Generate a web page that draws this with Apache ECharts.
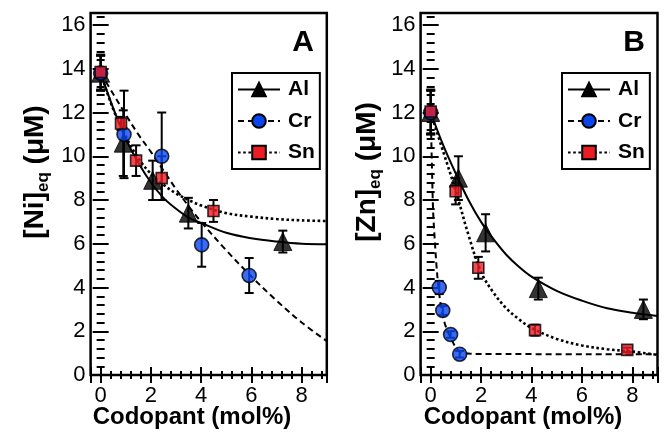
<!DOCTYPE html>
<html>
<head>
<meta charset="utf-8">
<script src="https://cdn.jsdelivr.net/npm/echarts@6/dist/echarts.min.js"></script>
<style>
  html, body { margin: 0; padding: 0; background: #fff; }
  #chart { width: 664px; height: 442px; }
</style>
</head>
<body>
<div id="chart"></div>
<script>
// ---- data ----
// panel A: [Ni]eq
const niAlX = [0, 0.9, 2.07, 3.49, 7.25];
const niAlY = [13.8, 10.6, 8.9, 7.4, 6.1];
const niAlErr = [0.8, 1.5, 0.9, 0.7, 0.5];
const niCrX = [0, 0.93, 2.43, 4.02, 5.91];
const niCrY = [13.8, 11.0, 10.0, 5.95, 4.55];
const niCrErr = [0.8, 2.0, 2.0, 1.0, 0.8];
const niSnX = [0, 0.81, 1.41, 2.43, 4.49];
const niSnY = [13.85, 11.5, 9.8, 9.0, 7.5];
const niSnErr = [0.8, 0.3, 0.7, 1.0, 0.5];
// fitted curves, panel A
const fitX = [0, 0.5, 1, 1.5, 2, 2.5, 3, 3.5, 4, 5, 6, 7, 8, 9];
const niAlFit = [13.8, 12.2, 10.8, 9.7, 8.8, 8.1, 7.6, 7.2, 6.95, 6.5, 6.25, 6.1, 6.0, 5.98];
const niCrFit = [13.8, 12.85, 11.9, 11.0, 10.2, 9.35, 8.5, 7.72, 7.0, 5.7, 4.5, 3.4, 2.4, 1.55];
const niSnFit = [13.8, 12.15, 10.9, 9.9, 9.2, 8.7, 8.3, 8.0, 7.75, 7.4, 7.24, 7.13, 7.07, 7.04];

// panel B: [Zn]eq
const znAlX = [0, 1.1, 2.18, 4.27, 8.44];
const znAlY = [12, 9.0, 6.5, 3.95, 3.0];
const znAlErr = [1.0, 1.0, 0.85, 0.5, 0.45];
const znCrX = [0, 0.34, 0.48, 0.79, 1.15];
const znCrY = [12, 4.0, 2.95, 1.85, 0.95];
const znCrErr = [1.0, 0.3, 0.2, 0.15, 0.15];
const znSnX = [0, 0.99, 1.89, 4.14, 7.8];
const znSnY = [12.05, 8.4, 4.9, 2.05, 1.15];
const znSnErr = [1.0, 0.6, 0.5, 0.25, 0.1];
// fitted curves, panel B
const znAlFit = [12, 10.5, 9.2, 8.0, 7.0, 6.2, 5.5, 4.95, 4.5, 3.85, 3.4, 3.05, 2.85, 2.7];
const znSnFit = [12, 10.2, 8.4, 6.4, 4.7, 3.75, 3.05, 2.55, 2.15, 1.65, 1.35, 1.18, 1.07, 0.92];
const znCrFitX = [0, 0.05, 0.1, 0.16, 0.23, 0.3, 0.4, 0.5, 0.65, 0.8, 1.0, 1.2, 1.5, 2, 9];
const znCrFit = [12, 9.5, 7.4, 6.2, 5.0, 4.1, 3.2, 2.6, 2.05, 1.7, 1.25, 1.05, 0.98, 0.96, 0.95];

const seriesNames = ['Al', 'Cr', 'Sn'];
const xMin = -0.4, xMax = 9;
const yMin = 0, yMax = 16.55;

const FONT = 'Liberation Sans';
const BLUE = '#0a46f0';
const RED = '#ec1c24';

const chart = echarts.init(document.getElementById('chart'));

const tickLine = { color: '#000', width: 2 };

function xAxes(grid) {
  const base = {
    gridIndex: grid, type: 'value', min: xMin, max: xMax,
    axisLine: { show: false }, splitLine: { show: false }
  };
  const major = { minInterval: 2, maxInterval: 2, axisTick: { inside: true, length: 8, lineStyle: tickLine } };
  const minor = { interval: 0.4, axisTick: { inside: true, length: 4, lineStyle: tickLine }, axisLabel: { show: false } };
  return [
    Object.assign({}, base, major, {
      position: 'bottom',
      axisLabel: {
        fontFamily: FONT, fontSize: 22, color: '#000', margin: 10,
        formatter: v => (Math.abs(v % 2) < 1e-9 && v >= 0 ? String(v) : '')
      }
    }),
    Object.assign({}, base, minor, { position: 'bottom' }),
    Object.assign({}, base, major, { position: 'top', axisLabel: { show: false } }),
    Object.assign({}, base, minor, { position: 'top' })
  ];
}

function yAxes(grid) {
  const base = {
    gridIndex: grid, type: 'value', min: yMin, max: yMax,
    axisLine: { show: false }, splitLine: { show: false }
  };
  const major = { interval: 2, axisTick: { inside: true, length: 8, lineStyle: tickLine } };
  const minor = { interval: 0.4, axisTick: { inside: true, length: 4, lineStyle: tickLine }, axisLabel: { show: false } };
  return [
    Object.assign({}, base, major, {
      position: 'left',
      axisLabel: {
        fontFamily: FONT, fontSize: 22, color: '#000', margin: 5,
        formatter: v => (Math.abs(v % 2) < 1e-9 ? String(v) : '')
      }
    }),
    Object.assign({}, base, minor, { position: 'left' }),
    Object.assign({}, base, major, { position: 'right', axisLabel: { show: false } }),
    Object.assign({}, base, minor, { position: 'right' })
  ];
}

const lineStyles = {
  Al: { color: '#000', width: 2, type: 'solid' },
  Cr: { color: '#000', width: 2, type: [6, 4] },
  Sn: { color: '#000', width: 2.6, type: [2.6, 2.6] }
};
const markers = {
  Al: { symbol: 'triangle', size: 18, item: { color: '#000', borderColor: '#000', borderWidth: 1 } },
  Cr: { symbol: 'circle', size: 14, item: { color: BLUE, borderColor: '#000', borderWidth: 1.6 } },
  Sn: { symbol: 'rect', size: 11, item: { color: RED, borderColor: '#000', borderWidth: 1.6 } }
};

function fitSeries(name, axis, xs, ys) {
  return {
    name: name, type: 'line', xAxisIndex: axis, yAxisIndex: axis,
    data: xs.map((x, i) => [x, ys[i]]),
    smooth: 0.35,
    symbol: markers[name].symbol, showSymbol: false,
    itemStyle: markers[name].item,
    lineStyle: lineStyles[name],
    z: 2, silent: true
  };
}

function errSeries(axis, xs, ys, errs) {
  return {
    type: 'custom', xAxisIndex: axis, yAxisIndex: axis, z: 3, silent: true,
    data: xs.map((x, i) => [x, ys[i] - errs[i], ys[i] + errs[i]]),
    encode: { x: 0, y: [1, 2] },
    renderItem: function (params, api) {
      const lo = api.coord([api.value(0), api.value(1)]);
      const hi = api.coord([api.value(0), api.value(2)]);
      const w = 4.5;
      const st = { stroke: '#000', lineWidth: 2 };
      return {
        type: 'group',
        children: [
          { type: 'line', shape: { x1: lo[0], y1: lo[1], x2: hi[0], y2: hi[1] }, style: st },
          { type: 'line', shape: { x1: lo[0] - w, y1: lo[1], x2: lo[0] + w, y2: lo[1] }, style: st },
          { type: 'line', shape: { x1: hi[0] - w, y1: hi[1], x2: hi[0] + w, y2: hi[1] }, style: st }
        ]
      };
    }
  };
}

function pointSeries(name, axis, xs, ys) {
  return {
    name: name + ' data', type: 'scatter', xAxisIndex: axis, yAxisIndex: axis,
    data: xs.map((x, i) => [x, ys[i]]),
    symbol: markers[name].symbol, symbolSize: markers[name].size,
    itemStyle: markers[name].item, z: 4, silent: true
  };
}

function legendAt(left) {
  return {
    data: seriesNames, orient: 'vertical', left: left, top: 73,
    padding: [6, 5, 6, 5], itemGap: 10.5, itemWidth: 42, itemHeight: 17,
    borderColor: '#000', borderWidth: 2, borderRadius: 0,
    textStyle: { fontFamily: FONT, fontSize: 21, fontWeight: 'bold', color: '#000', padding: [0, 0, 0, 3] },
    selectedMode: false
  };
}

function yTitle(x, y, el) {
  return {
    type: 'text', x: x, y: y, rotation: Math.PI / 2,
    style: {
      text: '{a|[' + el + ']}{b|eq}{a| (μM)}',
      align: 'center', verticalAlign: 'middle', fill: '#000',
      rich: {
        a: { fontFamily: FONT, fontSize: 28, fontWeight: 'bold', lineHeight: 34 },
        b: { fontFamily: FONT, fontSize: 17, fontWeight: 'bold', verticalAlign: 'bottom' }
      }
    }
  };
}

function plainText(x, y, text, size) {
  return {
    type: 'text', x: x, y: y,
    style: { text: text, align: 'center', verticalAlign: 'middle', fill: '#000',
      font: 'bold ' + size + 'px "' + FONT + '"' }
  };
}

const gridBase = { show: true, borderColor: '#000', borderWidth: 2.5, backgroundColor: 'transparent', containLabel: false, top: 13, height: 362 };

const option = {
  animation: false,
  backgroundColor: '#fff',
  grid: [
    Object.assign({ left: 90.6, width: 236.2 }, gridBase),
    Object.assign({ left: 420.6, width: 236.9 }, gridBase)
  ],
  xAxis: xAxes(0).concat(xAxes(1)),
  yAxis: yAxes(0).concat(yAxes(1)),
  legend: [legendAt(232), legendAt(562)],
  series: [
    fitSeries('Al', 0, fitX, niAlFit),
    fitSeries('Cr', 0, fitX, niCrFit),
    fitSeries('Sn', 0, fitX, niSnFit),
    errSeries(0, niAlX, niAlY, niAlErr),
    errSeries(0, niCrX, niCrY, niCrErr),
    errSeries(0, niSnX, niSnY, niSnErr),
    pointSeries('Al', 0, niAlX, niAlY),
    pointSeries('Cr', 0, niCrX, niCrY),
    pointSeries('Sn', 0, niSnX, niSnY),

    fitSeries('Al', 4, fitX, znAlFit),
    fitSeries('Cr', 4, znCrFitX, znCrFit),
    fitSeries('Sn', 4, fitX, znSnFit),
    errSeries(4, znAlX, znAlY, znAlErr),
    errSeries(4, znCrX, znCrY, znCrErr),
    errSeries(4, znSnX, znSnY, znSnErr),
    pointSeries('Al', 4, znAlX, znAlY),
    pointSeries('Cr', 4, znCrX, znCrY),
    pointSeries('Sn', 4, znSnX, znSnY)
  ],
  graphic: [
    yTitle(35, 172, 'Ni'),
    yTitle(367, 172, 'Zn'),
    plainText(192, 417, 'Codopant (mol%)', 24),
    plainText(523, 417, 'Codopant (mol%)', 24),
    plainText(303, 43, 'A', 30),
    plainText(634, 43, 'B', 30)
  ]
};

chart.setOption(option);
</script>
</body>
</html>
